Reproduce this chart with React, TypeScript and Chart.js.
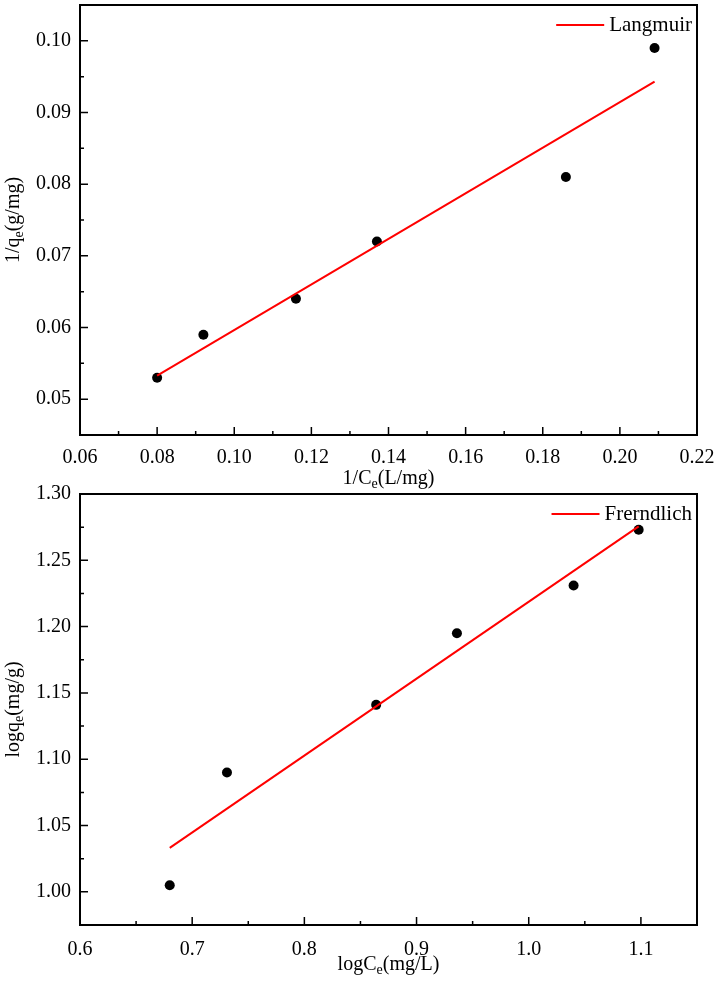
import React, { useEffect, useRef } from "react";
import { Chart, registerables } from "chart.js";

Chart.register(...registerables);

const FONT = '"Liberation Serif", "Times New Roman", serif';

// Langmuir linear form: 1/qe vs 1/Ce
const langmuirX = [0.08, 0.092, 0.116, 0.137, 0.186, 0.209];
const langmuirY = [0.053, 0.059, 0.064, 0.072, 0.081, 0.099];
const langmuirFitX = [0.08, 0.209];
const langmuirFitY = [0.0533, 0.0943];
const langmuirXTicks = [0.06, 0.08, 0.1, 0.12, 0.14, 0.16, 0.18, 0.2, 0.22];
const langmuirYTicks = [0.05, 0.06, 0.07, 0.08, 0.09, 0.1];

// Freundlich linear form: log qe vs log Ce
const freundlichX = [0.68, 0.731, 0.864, 0.936, 1.04, 1.098];
const freundlichY = [1.005, 1.09, 1.141, 1.195, 1.231, 1.273];
const freundlichFitX = [0.68, 1.098];
const freundlichFitY = [1.0332, 1.2756];
const freundlichXTicks = [0.6, 0.7, 0.8, 0.9, 1.0, 1.1];
const freundlichYTicks = [1.0, 1.05, 1.1, 1.15, 1.2, 1.25, 1.3];

type Part = { text: string; sub?: boolean };

type Spec = {
  top: number;
  height: number;
  padTop: number;
  xAxisHeight: number;
  xLabelPad: number;
  xMin: number;
  xMax: number;
  yMin: number;
  yMax: number;
  xTicks: number[];
  yTicks: number[];
  xDecimals: number;
  yDecimals: number;
  xs: number[];
  ys: number[];
  fitX: number[];
  fitY: number[];
  label: string;
  xTitle: Part[];
  yTitle: Part[];
  xTitleY: number;
};

// halfway points between major ticks, kept strictly inside the axis range
function minorTicks(major: number[], min: number, max: number): number[] {
  const out: number[] = [];
  const step = major[1] - major[0];
  const candidates = [major[0] - step / 2, ...major.map((v) => v + step / 2)];
  for (const c of candidates) {
    if (c > min + 1e-9 && c < max - 1e-9) out.push(c);
  }
  return out;
}

function drawRich(ctx: CanvasRenderingContext2D, parts: Part[], cx: number, cy: number, rotate: boolean) {
  const mainFont = `20px ${FONT}`;
  const subFont = `14px ${FONT}`;
  ctx.save();
  ctx.translate(cx, cy);
  if (rotate) ctx.rotate(-Math.PI / 2);
  ctx.fillStyle = "#000";
  ctx.textBaseline = "alphabetic";
  ctx.textAlign = "left";
  const widths = parts.map((p) => {
    ctx.font = p.sub ? subFont : mainFont;
    return ctx.measureText(p.text).width;
  });
  const total = widths.reduce((a, b) => a + b, 0);
  let x = -total / 2;
  parts.forEach((p, i) => {
    ctx.font = p.sub ? subFont : mainFont;
    ctx.fillText(p.text, x, p.sub ? 11 : 7);
    x += widths[i];
  });
  ctx.restore();
}

function makeDecor(spec: Spec) {
  return {
    id: "isothermDecor",
    afterDraw(chart: any) {
      const { ctx, chartArea, scales } = chart;
      const { left, right, top, bottom } = chartArea;
      const xs = scales.x;
      const ys = scales.y;
      ctx.save();
      ctx.strokeStyle = "#000";

      // inward tick marks on the bottom and left axes
      ctx.lineWidth = 1.5;
      ctx.beginPath();
      for (const v of spec.xTicks) {
        const p = xs.getPixelForValue(v);
        ctx.moveTo(p, bottom);
        ctx.lineTo(p, bottom - 8);
      }
      for (const v of minorTicks(spec.xTicks, spec.xMin, spec.xMax)) {
        const p = xs.getPixelForValue(v);
        ctx.moveTo(p, bottom);
        ctx.lineTo(p, bottom - 4);
      }
      for (const v of spec.yTicks) {
        const p = ys.getPixelForValue(v);
        ctx.moveTo(left, p);
        ctx.lineTo(left + 8, p);
      }
      for (const v of minorTicks(spec.yTicks, spec.yMin, spec.yMax)) {
        const p = ys.getPixelForValue(v);
        ctx.moveTo(left, p);
        ctx.lineTo(left + 4, p);
      }
      ctx.stroke();

      // plot frame
      ctx.lineWidth = 2;
      ctx.strokeRect(left, top, right - left, bottom - top);

      // legend in the upper right corner
      ctx.font = `21px ${FONT}`;
      ctx.fillStyle = "#000";
      ctx.textBaseline = "middle";
      ctx.textAlign = "left";
      const tw = ctx.measureText(spec.label).width;
      const textX = right - 5 - tw;
      const ly = top + 20;
      ctx.fillText(spec.label, textX, ly);
      ctx.strokeStyle = "#ff0000";
      ctx.lineWidth = 2;
      ctx.beginPath();
      ctx.moveTo(textX - 53, ly);
      ctx.lineTo(textX - 5, ly);
      ctx.stroke();
      ctx.restore();

      // axis titles
      drawRich(ctx, spec.xTitle, (left + right) / 2, spec.xTitleY, false);
      drawRich(ctx, spec.yTitle, 12, (top + bottom) / 2, true);
    },
  };
}

function IsothermChart({ spec }: { spec: Spec }) {
  const ref = useRef<HTMLCanvasElement | null>(null);

  useEffect(() => {
    if (!ref.current) return;
    const tickFont = { family: FONT, size: 20 };
    const chart = new Chart(ref.current, {
      type: "scatter",
      data: {
        datasets: [
          {
            type: "line",
            label: spec.label,
            data: spec.fitX.map((x, i) => ({ x, y: spec.fitY[i] })),
            borderColor: "#ff0000",
            borderWidth: 2,
            pointRadius: 0,
            fill: false,
            tension: 0,
            order: 0,
          } as any,
          {
            type: "scatter",
            label: "data",
            data: spec.xs.map((x, i) => ({ x, y: spec.ys[i] })),
            pointRadius: 5,
            pointHoverRadius: 5,
            backgroundColor: "#000",
            borderColor: "#000",
            borderWidth: 0,
            order: 1,
          },
        ],
      },
      options: {
        animation: false,
        responsive: false,
        devicePixelRatio: 1,
        layout: { padding: { left: 0, top: spec.padTop, right: 21, bottom: 0 } },
        plugins: { legend: { display: false }, tooltip: { enabled: false } },
        scales: {
          x: {
            type: "linear",
            position: "bottom",
            min: spec.xMin,
            max: spec.xMax,
            grid: { display: false, drawTicks: false },
            border: { display: false },
            ticks: {
              font: tickFont,
              color: "#000",
              padding: spec.xLabelPad,
              maxRotation: 0,
              autoSkip: false,
              callback: (v: any) => Number(v).toFixed(spec.xDecimals),
            },
            afterBuildTicks: (s: any) => {
              s.ticks = spec.xTicks.map((value) => ({ value }));
            },
            afterFit: (s: any) => {
              s.height = spec.xAxisHeight;
              s.paddingLeft = 0;
              s.paddingRight = 0;
            },
          },
          y: {
            type: "linear",
            min: spec.yMin,
            max: spec.yMax,
            grid: { display: false, drawTicks: false },
            border: { display: false },
            ticks: {
              font: tickFont,
              color: "#000",
              padding: 9,
              autoSkip: false,
              callback: (v: any) => Number(v).toFixed(spec.yDecimals),
            },
            afterBuildTicks: (s: any) => {
              s.ticks = spec.yTicks.map((value) => ({ value }));
            },
            afterFit: (s: any) => {
              s.width = 80;
              s.paddingTop = 0;
              s.paddingBottom = 0;
            },
          },
        },
      },
      plugins: [makeDecor(spec)],
    });
    return () => chart.destroy();
  }, [spec]);

  return (
    <canvas
      ref={ref}
      width={718}
      height={spec.height}
      style={{ position: "absolute", left: 0, top: spec.top, width: 718, height: spec.height, display: "block" }}
    />
  );
}

const langmuirSpec: Spec = {
  top: 0,
  height: 489,
  padTop: 4,
  xAxisHeight: 54,
  xLabelPad: 11,
  xMin: 0.06,
  xMax: 0.22,
  yMin: 0.045,
  yMax: 0.105,
  xTicks: langmuirXTicks,
  yTicks: langmuirYTicks,
  xDecimals: 2,
  yDecimals: 2,
  xs: langmuirX,
  ys: langmuirY,
  fitX: langmuirFitX,
  fitY: langmuirFitY,
  label: "Langmuir",
  xTitle: [{ text: "1/C" }, { text: "e", sub: true }, { text: "(L/mg)" }],
  yTitle: [{ text: "1/q" }, { text: "e", sub: true }, { text: "(g/mg)" }],
  xTitleY: 477,
};

// the lower canvas overlaps the upper one (transparent) so the top tick label has room
const freundlichSpec: Spec = {
  top: 470,
  height: 519,
  padTop: 24,
  xAxisHeight: 64,
  xLabelPad: 13,
  xMin: 0.6,
  xMax: 1.15,
  yMin: 0.975,
  yMax: 1.3,
  xTicks: freundlichXTicks,
  yTicks: freundlichYTicks,
  xDecimals: 1,
  yDecimals: 2,
  xs: freundlichX,
  ys: freundlichY,
  fitX: freundlichFitX,
  fitY: freundlichFitY,
  label: "Frerndlich",
  xTitle: [{ text: "logC" }, { text: "e", sub: true }, { text: "(mg/L)" }],
  yTitle: [{ text: "logq" }, { text: "e", sub: true }, { text: "(mg/g)" }],
  xTitleY: 493,
};

export default function App() {
  return (
    <div style={{ position: "absolute", left: 0, top: 0, width: 718, height: 989, background: "#fff" }}>
      <IsothermChart spec={langmuirSpec} />
      <IsothermChart spec={freundlichSpec} />
    </div>
  );
}
